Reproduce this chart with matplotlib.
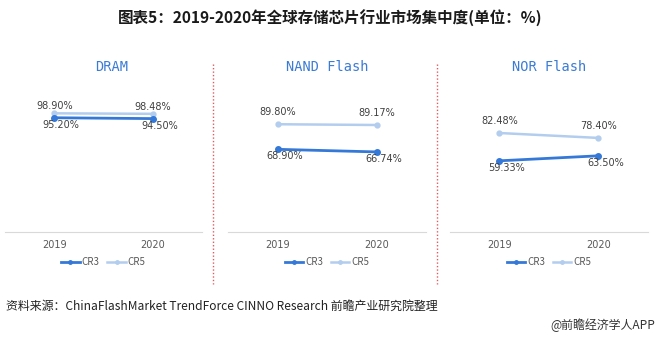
import matplotlib.pyplot as plt
from matplotlib.lines import Line2D

plt.rcParams['font.family'] = ['Noto Sans CJK SC', 'DejaVu Sans']

years = ['2019', '2020']
panels = ['DRAM', 'NAND Flash', 'NOR Flash']
cr3 = [[95.20, 94.50], [68.90, 66.74], [59.33, 63.50]]
cr5 = [[98.90, 98.48], [89.80, 89.17], [82.48, 78.40]]

c3 = '#3579d8'
c5 = '#b3cdef'
W, H = 660, 339

fig = plt.figure(figsize=(6.6, 3.39), dpi=100)
fig.patch.set_facecolor('white')

# axes boxes in pixels: left, right
boxes = [(5, 202), (228, 426), (450, 648)]
base = 232
top = 232 - 144

for i, (l, r) in enumerate(boxes):
    ax = fig.add_axes([l / W, 1 - base / H, (r - l) / W, (base - top) / H])
    x = [0, 1]
    ax.plot(x, cr5[i], color=c5, lw=1.8, marker='o', ms=3.5, zorder=2)
    ax.plot(x, cr3[i], color=c3, lw=2, marker='o', ms=4, zorder=3)
    up = 5 if i == 0 else 8.5
    for j in range(2):
        ax.annotate('%.2f%%' % cr5[i][j], (x[j], cr5[i][j]), xytext=(0, up),
                    textcoords='offset points', ha='center', va='center',
                    fontsize=7, color='#404040', family='DejaVu Sans')
        ax.annotate('%.2f%%' % cr3[i][j], (x[j], cr3[i][j]), xytext=(5, -5),
                    textcoords='offset points', ha='center', va='center',
                    fontsize=7, color='#404040', family='DejaVu Sans')
    ax.set_xlim(-0.5, 1.5)
    ax.set_ylim(0, 120)
    ax.set_xticks(x)
    ax.set_xticklabels(years, fontsize=7, color='#595959', family='DejaVu Sans')
    ax.set_yticks([])
    ax.tick_params(axis='x', length=0, pad=6)
    for s in ['top', 'left', 'right']:
        ax.spines[s].set_visible(False)
    ax.spines['bottom'].set_color('#d9d9d9')
    ax.patch.set_alpha(0)
    handles = [Line2D([], [], color=c3, lw=2, marker='o', ms=2.5),
               Line2D([], [], color=c5, lw=1.8, marker='o', ms=2.5)]
    fig.legend(handles, ['CR3', 'CR5'], loc='center',
               bbox_to_anchor=((l + r) / 2 / W, 1 - 262 / H), ncol=2,
               frameon=False, fontsize=7, labelcolor='#595959',
               handlelength=1.9, columnspacing=0.8, handletextpad=0.2)
    fig.text((l + r) / 2 / W + (8 / W if i == 0 else 0), 1 - 67 / H, panels[i],
             ha='center', va='center', fontsize=9.8, color='#3a7bd5',
             family='DejaVu Sans Mono')

# red dotted separators
for xs in [213, 437]:
    fig.add_artist(Line2D([xs / W, xs / W], [1 - 64 / H, 1 - 284 / H],
                          color='#e25a5e', lw=1, ls=(0, (1, 1.5))))

fig.text(0.5, 1 - 18 / H, '图表5：2019-2020年全球存储芯片行业市场集中度(单位：%)',
         ha='center', va='center', fontsize=11.2, fontweight='bold', color='#1a1a1a')
fig.text(6 / W, 1 - 306 / H,
         '资料来源：ChinaFlashMarket TrendForce CINNO Research 前瞻产业研究院整理',
         ha='left', va='center', fontsize=8.6, color='#222222')
fig.text(655 / W, 1 - 325 / H, '@前瞻经济学人APP', ha='right', va='center',
         fontsize=8.6, color='#333333')

fig.savefig('out.png', dpi=100)
